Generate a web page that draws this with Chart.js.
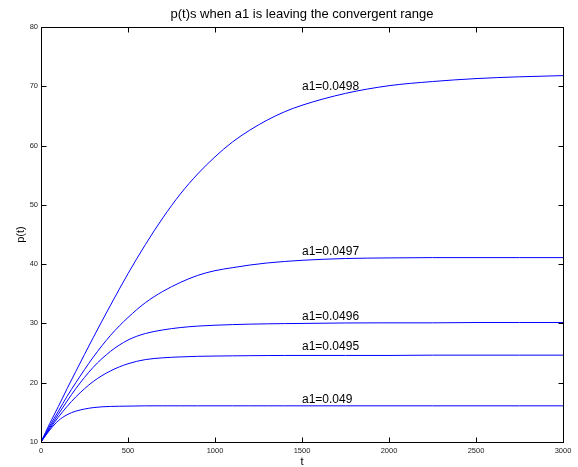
<!DOCTYPE html>
<html>
<head>
<meta charset="utf-8">
<script src="https://cdn.jsdelivr.net/npm/chart.js@4"></script>
<style>
  html, body { margin: 0; padding: 0; background: #fff; }
  #plot { display: block; }
</style>
</head>
<body>
<canvas id="plot" width="578" height="467"></canvas>
<script>
// time samples (t)
const tValues = [0, 50, 100, 150, 200, 300, 400, 500, 600, 700, 800, 900, 1000, 1100, 1200, 1300, 1400, 1500, 1750, 2000, 2250, 2500, 2750, 3000];

// p(t) for each a1
const p0498 = [10, 13.1, 16.0, 19.0, 21.9, 27.6, 33.1, 38.4, 43.3, 47.8, 51.8, 55.2, 58.1, 60.6, 62.6, 64.3, 65.7, 66.8, 68.8, 70.1, 70.8, 71.3, 71.6, 71.8];
const p0497 = [10, 12.7, 15.2, 17.7, 20.0, 24.3, 28.0, 31.0, 33.5, 35.4, 36.9, 38.1, 38.9, 39.4, 39.85, 40.2, 40.45, 40.65, 40.95, 41.05, 41.1, 41.1, 41.1, 41.1];
const p0496 = [10, 12.4, 14.7, 16.9, 19.0, 22.6, 25.3, 27.2, 28.3, 28.9, 29.3, 29.55, 29.7, 29.8, 29.88, 29.93, 29.97, 30.0, 30.08, 30.1, 30.1, 30.15, 30.15, 30.15];
const p0495 = [10, 12.2, 14.2, 16.0, 17.6, 20.2, 22.0, 23.2, 23.9, 24.2, 24.35, 24.45, 24.5, 24.53, 24.56, 24.58, 24.6, 24.6, 24.6, 24.6, 24.65, 24.65, 24.65, 24.65];
const p049  = [10, 12.0, 13.6, 14.6, 15.2, 15.8, 16.0, 16.05, 16.1, 16.1, 16.1, 16.1, 16.1, 16.1, 16.1, 16.1, 16.1, 16.1, 16.1, 16.1, 16.1, 16.1, 16.1, 16.1];

// curve labels, placed in data units
const labelTexts = ['a1=0.0498', 'a1=0.0497', 'a1=0.0496', 'a1=0.0495', 'a1=0.049'];
const labelT = [1500, 1500, 1500, 1500, 1500];
const labelP = [69.9, 42.1, 31.1, 26.1, 17.1];

const xTicks = [0, 500, 1000, 1500, 2000, 2500, 3000];
const yTicks = [10, 20, 30, 40, 50, 60, 70, 80];

const FONT = "'Liberation Sans', Arial, sans-serif";

const series = [p0498, p0497, p0496, p0495, p049];
const datasets = series.map(arr => ({
    data: tValues.map((t, i) => ({ x: t, y: arr[i] })),
    borderColor: '#0000ff',
    borderWidth: 1,
    pointRadius: 0,
    fill: false,
    cubicInterpolationMode: 'monotone'
}));

// box, inward ticks, title, axis titles, curve labels
const matlabFrame = {
    id: 'matlabFrame',
    afterDraw(chart) {
        const { ctx, chartArea: a, scales: { x, y } } = chart;
        const L = Math.round(a.left) + 0.5, R = Math.round(a.right) + 0.5;
        const T = Math.round(a.top) + 0.5, B = Math.round(a.bottom) + 0.5;
        const tick = 5;

        ctx.save();
        ctx.strokeStyle = '#000';
        ctx.lineWidth = 1;
        ctx.strokeRect(L, T, R - L, B - T);

        ctx.beginPath();
        xTicks.forEach(v => {
            const px = Math.round(x.getPixelForValue(v)) + 0.5;
            ctx.moveTo(px, B); ctx.lineTo(px, B - tick);
            ctx.moveTo(px, T); ctx.lineTo(px, T + tick);
        });
        yTicks.forEach(v => {
            const py = Math.round(y.getPixelForValue(v)) + 0.5;
            ctx.moveTo(L, py); ctx.lineTo(L + tick, py);
            ctx.moveTo(R, py); ctx.lineTo(R - tick, py);
        });
        ctx.stroke();

        ctx.fillStyle = '#000';
        ctx.textAlign = 'center';
        ctx.textBaseline = 'middle';
        ctx.font = '13px ' + FONT;
        ctx.fillText('p(t)s when a1 is leaving the convergent range', (a.left + a.right) / 2, 14);

        ctx.font = '11px ' + FONT;
        ctx.fillText('t', (a.left + a.right) / 2, 462);
        ctx.save();
        ctx.translate(21, (a.top + a.bottom) / 2);
        ctx.rotate(-Math.PI / 2);
        ctx.fillText('p(t)', 0, 0);
        ctx.restore();

        ctx.font = '12px ' + FONT;
        ctx.textAlign = 'left';
        labelTexts.forEach((txt, i) => {
            ctx.fillText(txt, x.getPixelForValue(labelT[i]), y.getPixelForValue(labelP[i]));
        });
        ctx.restore();
    }
};

new Chart(document.getElementById('plot'), {
    type: 'line',
    data: { datasets },
    options: {
        responsive: false,
        animation: false,
        layout: { padding: { top: 27, right: 15, left: 0, bottom: 0 } },
        plugins: {
            legend: { display: false },
            tooltip: { enabled: false }
        },
        scales: {
            x: {
                type: 'linear',
                min: 0,
                max: 3000,
                afterFit: s => { s.height = 25; },
                afterBuildTicks: s => { s.ticks = xTicks.map(v => ({ value: v })); },
                grid: { display: false, drawTicks: false },
                border: { display: false },
                ticks: { font: { family: FONT, size: 7.5 }, color: '#222', padding: 4, maxRotation: 0, callback: v => String(v) }
            },
            y: {
                min: 10,
                max: 80,
                afterFit: s => { s.width = 41; },
                afterBuildTicks: s => { s.ticks = yTicks.map(v => ({ value: v })); },
                grid: { display: false, drawTicks: false },
                border: { display: false },
                ticks: { font: { family: FONT, size: 7.5 }, color: '#222', padding: 3, callback: v => String(v) }
            }
        }
    },
    plugins: [matlabFrame]
});
</script>
</body>
</html>
